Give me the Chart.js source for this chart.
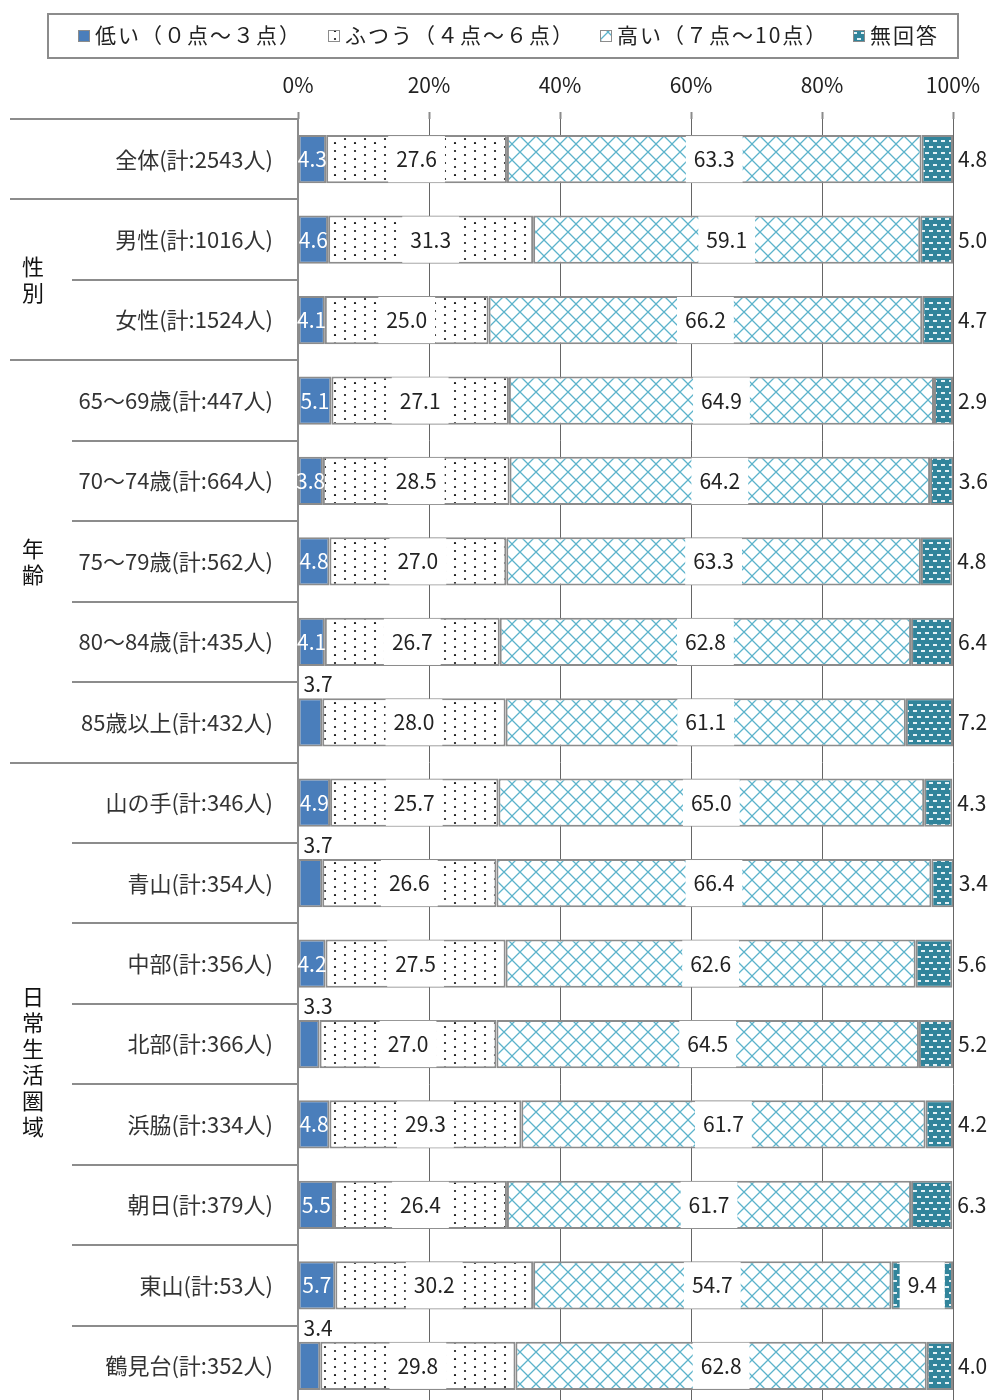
<!DOCTYPE html>
<html lang="ja">
<head>
<meta charset="utf-8">
<script src="https://cdn.jsdelivr.net/npm/chart.js@4.4.1/dist/chart.umd.min.js"></script>
<style>
  html, body { margin: 0; padding: 0; background: #fff; overflow: hidden; }
  canvas { display: block; }
</style>
</head>
<body>
<canvas id="c" width="990" height="1410" style="width:990px;height:1410px"></canvas>
<script>
// ---- data ----
const categories = [
  '全体(計:2543人)',
  '男性(計:1016人)', '女性(計:1524人)',
  '65～69歳(計:447人)', '70～74歳(計:664人)', '75～79歳(計:562人)', '80～84歳(計:435人)', '85歳以上(計:432人)',
  '山の手(計:346人)', '青山(計:354人)', '中部(計:356人)', '北部(計:366人)', '浜脇(計:334人)', '朝日(計:379人)', '東山(計:53人)', '鶴見台(計:352人)'
];
const seriesNames = ['低い（０点～３点）', 'ふつう（４点～６点）', '高い（７点～10点）', '無回答'];
const lowValues     = [4.3, 4.6, 4.1, 5.1, 3.8, 4.8, 4.1, 3.7, 4.9, 3.7, 4.2, 3.3, 4.8, 5.5, 5.7, 3.4];
const normalValues  = [27.6, 31.3, 25.0, 27.1, 28.5, 27.0, 26.7, 28.0, 25.7, 26.6, 27.5, 27.0, 29.3, 26.4, 30.2, 29.8];
const highValues    = [63.3, 59.1, 66.2, 64.9, 64.2, 63.3, 62.8, 61.1, 65.0, 66.4, 62.6, 64.5, 61.7, 61.7, 54.7, 62.8];
const noAnswerValues= [4.8, 5.0, 4.7, 2.9, 3.6, 4.8, 6.4, 7.2, 4.3, 3.4, 5.6, 5.2, 4.2, 6.3, 9.4, 4.0];
const xTicks = [0, 20, 40, 60, 80, 100];
const groupNames = ['', '性別', '年齢', '日常生活圏域'];
const groupStarts = [0, 1, 3, 8];   // first category index of each group
const groupEnds   = [0, 2, 7, 15];  // last category index of each group

// ---- patterns ----
const FONT = "'Noto Sans CJK JP', 'Noto Sans', sans-serif";
Chart.defaults.font.family = FONT;

function makePattern(w, h, draw) {
  const c = document.createElement('canvas');
  c.width = w; c.height = h;
  const g = c.getContext('2d');
  draw(g, w, h);
  return g.createPattern(c, 'repeat');
}
const patLow = '#4a7ebb';
const patNormal = makePattern(20, 16, (g, w, h) => {
  g.fillStyle = '#fff'; g.fillRect(0, 0, w, h);
  g.fillStyle = '#111';
  [[5, 3], [5, 11], [15, 7], [15, 15]].forEach(([x, y]) => {
    g.beginPath(); g.arc(x, y, 1.1, 0, Math.PI * 2); g.fill();
  });
});
const patHigh = makePattern(16, 16, (g, w, h) => {
  g.fillStyle = '#fff'; g.fillRect(0, 0, w, h);
  g.strokeStyle = '#5cb3cb'; g.lineWidth = 1.3;
  g.beginPath();
  g.moveTo(-1, -1); g.lineTo(w + 1, h + 1);
  g.moveTo(w + 1, -1); g.lineTo(-1, h + 1);
  g.stroke();
});
const patNone = makePattern(8, 12, (g, w, h) => {
  g.fillStyle = '#31849b'; g.fillRect(0, 0, w, h);
  g.fillStyle = '#e3f1f5';
  g.fillRect(1, 2, 4, 2);
  g.fillRect(5, 8, 4, 2);
  g.fillRect(-3, 8, 4, 2);
});
const fills = [patLow, patNormal, patHigh, patNone];
const seriesValues = [lowValues, normalValues, highValues, noAnswerValues];

// ---- plugins ----
const decorPlugin = {
  id: 'decor',
  beforeDraw(chart) {
    const ctx = chart.ctx;
    ctx.save();
    ctx.fillStyle = '#fff';
    ctx.fillRect(0, 0, chart.width, chart.height);
    ctx.restore();
  },
  afterDraw(chart) {
    const ctx = chart.ctx;
    const ys = chart.scales.y;
    const left = chart.chartArea.left;
    ctx.save();
    // legend
    ctx.strokeStyle = '#8c8c8c'; ctx.lineWidth = 2;
    ctx.strokeRect(48, 14, 910, 44);
    const textX = [95, 345, 617, 870];
    ctx.font = '21px ' + FONT;
    ctx.textBaseline = 'middle'; ctx.textAlign = 'left';
    seriesNames.forEach((n, i) => {
      const mx = textX[i] - 17;
      ctx.fillStyle = fills[i];
      ctx.fillRect(mx, 30, 12, 12);
      ctx.strokeStyle = '#8c8c8c'; ctx.lineWidth = 1;
      ctx.strokeRect(mx + 0.5, 30.5, 11, 11);
      ctx.fillStyle = '#222';
      if ('letterSpacing' in ctx) ctx.letterSpacing = '2px';
      ctx.fillText(n, textX[i], 35);
      if ('letterSpacing' in ctx) ctx.letterSpacing = '0px';
    });
    // separators
    ctx.strokeStyle = '#8c8c8c'; ctx.lineWidth = 2;
    for (let i = 0; i <= categories.length; i++) {
      const y = Math.round(ys.getPixelForValue(i - 0.5));
      const x0 = groupStarts.includes(i) ? 10 : 72;
      ctx.beginPath(); ctx.moveTo(x0, y); ctx.lineTo(left, y); ctx.stroke();
    }
    // group labels (vertical)
    ctx.fillStyle = '#111';
    ctx.font = '22px ' + FONT;
    ctx.textAlign = 'center';
    groupNames.forEach((name, gi) => {
      if (!name) return;
      const yTop = ys.getPixelForValue(groupStarts[gi] - 0.5);
      const yBot = Math.min(ys.getPixelForValue(groupEnds[gi] + 0.5), chart.height - 50);
      const chars = [...name];
      const step = 26;
      const mid = (yTop + yBot) / 2;
      const start = mid - (chars.length - 1) * step / 2;
      chars.forEach((ch, k) => ctx.fillText(ch, 33, start + k * step));
    });
    ctx.restore();
  },
  afterDatasetsDraw(chart) {
    const ctx = chart.ctx;
    ctx.save();
    ctx.font = '21px ' + FONT;
    ctx.textBaseline = 'middle';
    chart.data.datasets.forEach((ds, di) => {
      const meta = chart.getDatasetMeta(di);
      meta.data.forEach((bar, i) => {
        const v = ds.data[i];
        const txt = v.toFixed(1);
        const x0 = Math.min(bar.base, bar.x), x1 = Math.max(bar.base, bar.x);
        const cx = (x0 + x1) / 2, cy = bar.y, h = bar.height;
        const tw = ctx.measureText(txt).width;
        if (di === 0) {
          if (v < 3.75) {
            ctx.fillStyle = '#222'; ctx.textAlign = 'left';
            ctx.fillText(txt, x0 + 5, cy - h / 2 - 14);
          } else {
            ctx.fillStyle = '#fff'; ctx.textAlign = 'center';
            ctx.fillText(txt, cx, cy);
          }
        } else if (di === 3 && v < 9) {
          ctx.fillStyle = '#222'; ctx.textAlign = 'left';
          ctx.fillText(txt, x1 + 5, cy);
        } else {
          ctx.fillStyle = '#fff';
          ctx.fillRect(cx - tw / 2 - 8, cy - h / 2 + 1, tw + 16, h - 2);
          ctx.fillStyle = '#222'; ctx.textAlign = 'center';
          ctx.fillText(txt, cx, cy);
        }
      });
    });
    ctx.restore();
  }
};

new Chart(document.getElementById('c'), {
  type: 'bar',
  data: {
    labels: categories,
    datasets: seriesNames.map((n, i) => ({
      label: n,
      data: seriesValues[i],
      backgroundColor: fills[i],
      borderColor: '#8c8c8c',
      borderWidth: 2,
      borderSkipped: false,
      barPercentage: 0.6,
      categoryPercentage: 1
    }))
  },
  options: {
    indexAxis: 'y',
    responsive: false,
    animation: false,
    devicePixelRatio: 1,
    layout: { padding: { left: 0, right: 37, top: 0, bottom: 4 } },
    plugins: { legend: { display: false }, tooltip: { enabled: false } },
    scales: {
      x: {
        position: 'top',
        stacked: true,
        min: 0, max: 100,
        afterBuildTicks: (s) => { s.ticks = xTicks.map(v => ({ value: v })); },
        afterFit: (s) => { s.height = 119; s.paddingLeft = 0; s.paddingRight = 0; },
        border: { display: false },
        grid: {
          color: '#666', lineWidth: 1, borderDash: [2, 2],
          tickLength: 7, tickBorderDash: [], tickColor: '#8c8c8c', tickWidth: 2
        },
        ticks: {
          padding: 14, color: '#222',
          font: { size: 21, family: FONT },
          callback: (v) => v + '%'
        }
      },
      y: {
        stacked: true,
        afterFit: (s) => { s.width = 298; s.paddingTop = 0; s.paddingBottom = 0; },
        border: { display: true, color: '#8c8c8c', width: 2 },
        grid: { drawOnChartArea: false, drawTicks: false },
        ticks: {
          padding: 25, color: '#333',
          font: { size: 22, family: FONT }
        }
      }
    }
  },
  plugins: [decorPlugin]
});
</script>
</body>
</html>
